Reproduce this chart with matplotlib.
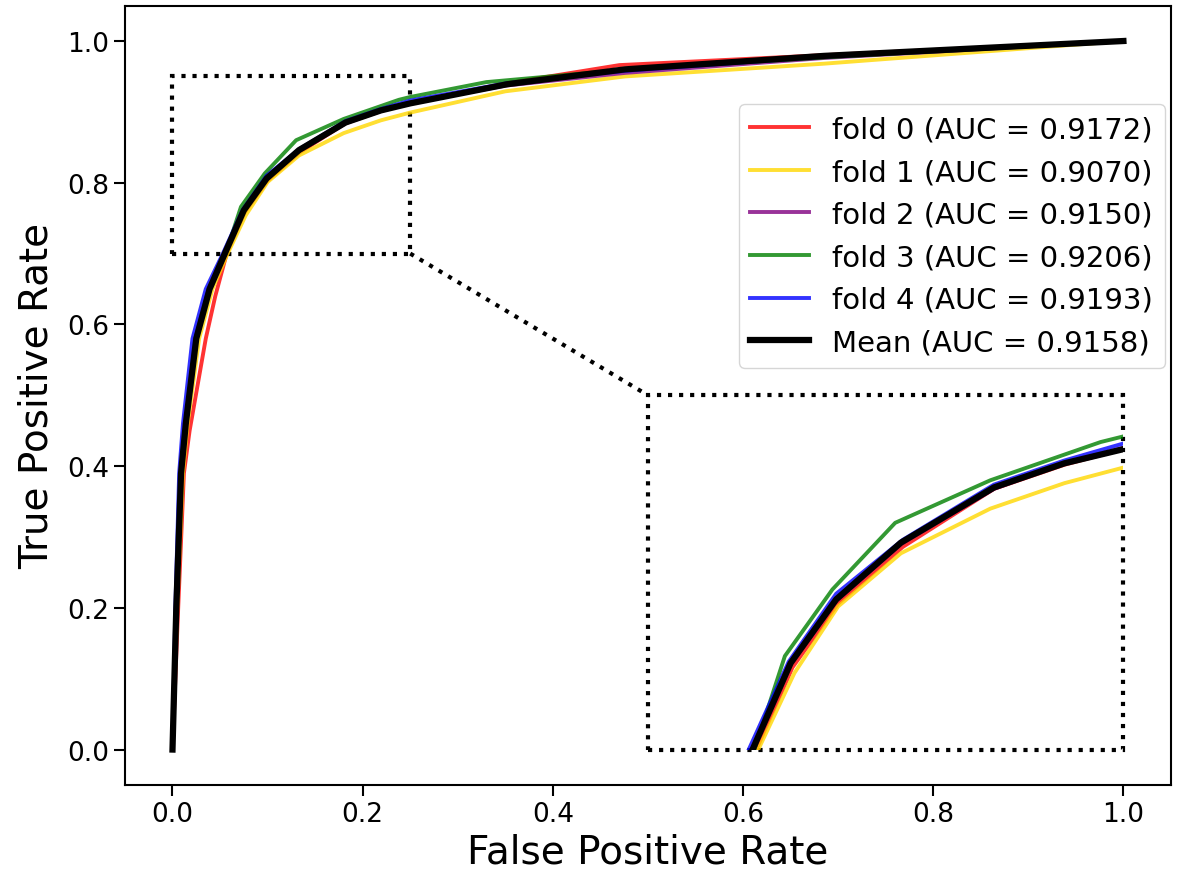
import matplotlib
matplotlib.use('Agg')
import matplotlib.pyplot as plt
from matplotlib.patches import Rectangle
from matplotlib.transforms import Affine2D

# ROC points, one pair of lists per fold
fpr_0 = [0, 0.006, 0.012, 0.018, 0.035, 0.045, 0.057, 0.076, 0.100, 0.134, 0.182, 0.219, 0.25, 0.35, 0.47, 0.70, 1.0]
tpr_0 = [0, 0.20, 0.39, 0.45, 0.58, 0.64, 0.70, 0.758, 0.803, 0.843, 0.884, 0.901, 0.912, 0.940, 0.966, 0.981, 1.0]
fpr_1 = [0, 0.005, 0.011, 0.016, 0.028, 0.042, 0.058, 0.077, 0.100, 0.133, 0.180, 0.219, 0.25, 0.35, 0.476, 0.685, 1.0]
tpr_1 = [0, 0.20, 0.39, 0.46, 0.58, 0.65, 0.70, 0.754, 0.801, 0.8385, 0.870, 0.888, 0.899, 0.929, 0.950, 0.968, 1.0]
fpr_2 = [0, 0.004, 0.009, 0.014, 0.025, 0.039, 0.055, 0.075, 0.099, 0.133, 0.182, 0.219, 0.25, 0.35, 0.476, 0.685, 1.0]
tpr_2 = [0, 0.20, 0.39, 0.46, 0.58, 0.65, 0.70, 0.760, 0.805, 0.845, 0.884, 0.902, 0.913, 0.937, 0.955, 0.976, 1.0]
fpr_3 = [0, 0.004, 0.009, 0.014, 0.024, 0.038, 0.056, 0.072, 0.097, 0.130, 0.180, 0.238, 0.25, 0.33, 0.48, 0.70, 1.0]
tpr_3 = [0, 0.20, 0.39, 0.46, 0.58, 0.65, 0.70, 0.766, 0.813, 0.860, 0.890, 0.917, 0.921, 0.942, 0.960, 0.978, 1.0]
fpr_4 = [0, 0.003, 0.007, 0.011, 0.021, 0.035, 0.053, 0.074, 0.099, 0.134, 0.182, 0.219, 0.25, 0.35, 0.476, 0.685, 1.0]
tpr_4 = [0, 0.20, 0.39, 0.46, 0.58, 0.65, 0.70, 0.762, 0.810, 0.848, 0.887, 0.904, 0.916, 0.940, 0.958, 0.978, 1.0]
mean_fpr = [0, 0.004, 0.009, 0.014, 0.025, 0.039, 0.055, 0.075, 0.099, 0.133, 0.182, 0.219, 0.25, 0.352, 0.476, 0.685, 1.0]
mean_tpr = [0, 0.20, 0.39, 0.46, 0.58, 0.65, 0.70, 0.761, 0.806, 0.846, 0.885, 0.902, 0.912, 0.939, 0.960, 0.979, 1.0]

folds = [(fpr_0, tpr_0), (fpr_1, tpr_1), (fpr_2, tpr_2), (fpr_3, tpr_3), (fpr_4, tpr_4)]
fold_auc = [0.9172, 0.9070, 0.9150, 0.9206, 0.9193]
mean_auc = 0.9158
colors = ['red', 'gold', 'purple', 'green', 'blue']

# zoom window and where it is drawn
zoom_x, zoom_y, zoom_w, zoom_h = 0.0, 0.7, 0.25, 0.25
inset_x, inset_y, inset_w, inset_h = 0.5, 0.0, 0.5, 0.5

fig = plt.figure(figsize=(11.81, 8.78), dpi=100)
ax = fig.add_axes([0.1058, 0.1048, 0.8857, 0.8877])

sx = inset_w / zoom_w
sy = inset_h / zoom_h
zoom_trans = Affine2D().translate(-zoom_x, -zoom_y).scale(sx, sy).translate(inset_x, inset_y) + ax.transData
clip_rect = Rectangle((inset_x, inset_y), inset_w, inset_h, transform=ax.transData,
                      fill=False, edgecolor='none')

for i, (f, t) in enumerate(folds):
    ax.plot(f, t, color=colors[i], alpha=0.8, lw=2.8,
            label='fold %d (AUC = %.4f)' % (i, fold_auc[i]))
ax.plot(mean_fpr, mean_tpr, color='black', lw=4.5, label='Mean (AUC = %.4f)' % mean_auc)

# magnified copies inside the lower right box
for i, (f, t) in enumerate(folds):
    ln, = ax.plot(f, t, color=colors[i], alpha=0.8, lw=2.8, transform=zoom_trans)
    ln.set_clip_path(clip_rect)
ln, = ax.plot(mean_fpr, mean_tpr, color='black', lw=4.5, transform=zoom_trans)
ln.set_clip_path(clip_rect)

ax.add_patch(Rectangle((zoom_x, zoom_y), zoom_w, zoom_h, fill=False, ls=':', lw=3, ec='black'))
ax.add_patch(Rectangle((inset_x, inset_y), inset_w, inset_h, fill=False, ls=':', lw=3, ec='black'))
ax.plot([zoom_x + zoom_w, inset_x], [zoom_y, inset_y + inset_h], ls=':', lw=3, color='black')

ax.set_xlim(-0.05, 1.05)
ax.set_ylim(-0.05, 1.05)
ax.set_xticks([0, 0.2, 0.4, 0.6, 0.8, 1.0])
ax.set_yticks([0, 0.2, 0.4, 0.6, 0.8, 1.0])
ax.tick_params(labelsize=19, length=8, width=1.5)
for s in ax.spines.values():
    s.set_linewidth(1.5)
ax.set_xlabel('False Positive Rate', fontsize=28)
ax.set_ylabel('True Positive Rate', fontsize=28, labelpad=8)

ax.legend(loc='upper right', bbox_to_anchor=(0.994, 0.874), borderaxespad=0, fontsize=21)

fig.savefig('out.png', dpi=100)
